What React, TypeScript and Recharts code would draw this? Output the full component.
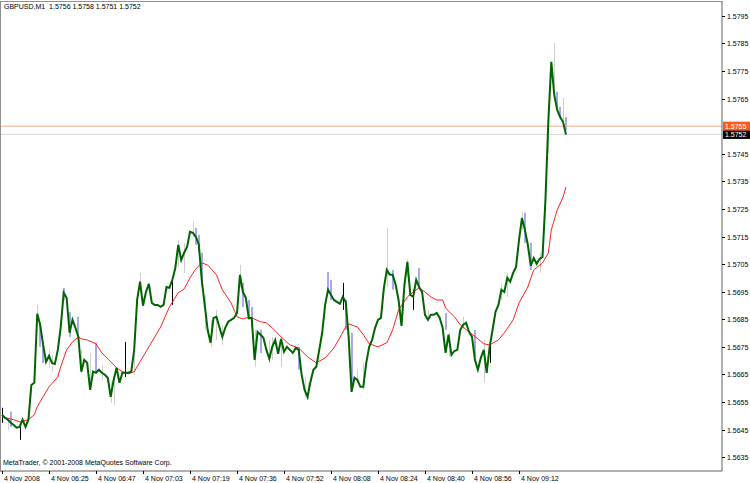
import { Bar, ComposedChart, Line, ReferenceLine, XAxis, YAxis } from 'recharts';

// close of each M1 bar, bar index = position in array
const closePrices = [
  1.56504, 1.56493, 1.56486, 1.56475, 1.56467, 1.56457, 1.5646, 1.56486, 1.5646, 1.56486,
  1.56612, 1.5662, 1.5687, 1.5683, 1.56757, 1.56696, 1.56717, 1.56692, 1.56688, 1.56739,
  1.56822, 1.56946, 1.56928, 1.56801, 1.56848, 1.56819, 1.56786, 1.5666, 1.56703, 1.56692,
  1.56594, 1.5666, 1.56656, 1.56667, 1.56656, 1.56649, 1.56638, 1.56569, 1.5663, 1.56674,
  1.5662, 1.56656, 1.56656, 1.56656, 1.5666, 1.56739, 1.5692, 1.56986, 1.56899, 1.56949,
  1.56978, 1.56909, 1.56902, 1.56902, 1.56895, 1.56902, 1.56967, 1.56964, 1.56993, 1.57036,
  1.5712, 1.57065, 1.57091, 1.57112, 1.57167, 1.57163, 1.57149, 1.5712, 1.56993, 1.56902,
  1.56812, 1.56765, 1.56855, 1.56859, 1.56822, 1.56786, 1.56819, 1.56841, 1.56848, 1.56855,
  1.56873, 1.57011, 1.56949, 1.56928, 1.56855, 1.56855, 1.56703, 1.56804, 1.56794, 1.56783,
  1.56739, 1.56707, 1.5675, 1.56775, 1.56725, 1.56779, 1.56732, 1.5675, 1.56739, 1.56728,
  1.56746, 1.56739, 1.56649, 1.56594, 1.56569, 1.56623, 1.56667, 1.56678, 1.56739, 1.56801,
  1.56902, 1.56957, 1.56938, 1.5692, 1.56913, 1.56906, 1.56931, 1.56913, 1.56786, 1.56587,
  1.56638, 1.5663, 1.56605, 1.56605, 1.56692, 1.5675, 1.56775, 1.56819, 1.56848, 1.56855,
  1.56964, 1.57029, 1.57011, 1.57011, 1.56975, 1.5692, 1.56826, 1.56975, 1.57058, 1.56938,
  1.56931, 1.56993, 1.56967, 1.56949, 1.56866, 1.56848, 1.56866, 1.56866, 1.56873, 1.56855,
  1.56819, 1.56728, 1.56794, 1.56721, 1.56735, 1.56739, 1.56812, 1.5683, 1.56837, 1.56804,
  1.56786, 1.56703, 1.56667, 1.5671, 1.56739, 1.56656, 1.5675, 1.56812, 1.56877, 1.56902,
  1.56957, 1.56949, 1.57, 1.56986, 1.57018, 1.5704, 1.57138, 1.57217, 1.57174, 1.5712,
  1.57044, 1.57072, 1.57051, 1.57069, 1.57076, 1.57283, 1.57572, 1.57783, 1.57663, 1.57609,
  1.57583, 1.57565, 1.5752,
];

// moving average, read at a subset of bars
const maBars = [
  0, 4, 6, 9, 11, 12, 14, 16, 19, 20, 22, 24, 26, 27, 29, 32, 34, 37, 39, 41, 43, 45, 47, 50,
  54, 57, 60, 62, 64, 66, 68, 70, 73, 75, 78, 80, 82, 83, 85, 88, 90, 92, 95, 98, 101, 104,
  107, 110, 113, 115, 117, 118, 121, 123, 125, 128, 131, 133, 135, 138, 140, 142, 144, 146,
  148, 150, 151, 154, 156, 159, 162, 164, 166, 169, 171, 174, 176, 179, 181, 184, 186, 187,
  189, 191, 192,
];
const maPrices = [
  1.56496, 1.56486, 1.56478, 1.56486, 1.56504, 1.56533, 1.56569, 1.56605, 1.56641, 1.56678,
  1.56739, 1.56768, 1.56786, 1.56779, 1.56775, 1.56761, 1.56728, 1.56696, 1.56674, 1.5666,
  1.56652, 1.5666, 1.56696, 1.5675, 1.56822, 1.56895, 1.56946, 1.5696, 1.57, 1.57033,
  1.57054, 1.57047, 1.57011, 1.56957, 1.56909, 1.56859, 1.56851, 1.56855, 1.56855, 1.56841,
  1.56837, 1.56819, 1.56786, 1.56757, 1.56746, 1.56714, 1.56692, 1.5671, 1.56746, 1.56783,
  1.56822, 1.56833, 1.56822, 1.56794, 1.56761, 1.5675, 1.56765, 1.56812, 1.56884, 1.56931,
  1.56949, 1.56964, 1.56949, 1.56931, 1.5692, 1.5692, 1.56891, 1.56859, 1.5683, 1.56804,
  1.56779, 1.56761, 1.56757, 1.56775, 1.56801, 1.56848, 1.56909, 1.56967, 1.57029, 1.57054,
  1.57091, 1.57174, 1.57246, 1.57293, 1.5733,
];

// visible bar shadows: g = grey wick, b = blue body, k = black wick
const wickBars = [
  0, 2, 3, 6, 12, 13, 14, 16, 17, 21, 23, 26, 27, 30, 32, 34, 37, 38, 42, 45, 47, 58, 60, 62,
  65, 66, 67, 68, 69, 71, 73, 75, 81, 82, 84, 85, 86, 88, 91, 92, 95, 101, 103, 104, 111, 112,
  116, 117, 119, 121, 123, 131, 133, 138, 140, 142, 145, 151, 152, 157, 161, 164, 166, 170,
  172, 177, 178, 180, 183, 186, 188, 189, 190, 191, 192,
];
const wickHighs = [
  1.56529, 1.56478, 1.56515, 1.5646, 1.56902, 1.56837, 1.56768, 1.56739, 1.56721, 1.56964,
  1.56877, 1.56859, 1.56739, 1.56728, 1.56765, 1.56685, 1.5662, 1.56649, 1.56768, 1.56721,
  1.57018, 1.56993, 1.57138, 1.57127, 1.57203, 1.57181, 1.57156, 1.57091, 1.56938, 1.56848,
  1.56884, 1.5683, 1.57047, 1.56982, 1.5692, 1.56895, 1.56812, 1.56812, 1.56775, 1.56786,
  1.56786, 1.5675, 1.56641, 1.5662, 1.57022, 1.56993, 1.56982, 1.5692, 1.56801, 1.56667,
  1.56692, 1.57181, 1.57029, 1.57065, 1.56957, 1.57036, 1.56884, 1.56873, 1.56801, 1.56859,
  1.56812, 1.56775, 1.56765, 1.56982, 1.57018, 1.57239, 1.57236, 1.57127, 1.57091, 1.57609,
  1.57851, 1.57674, 1.5762, 1.57652, 1.57583,
];
const wickLows = [
  1.56475, 1.56449, 1.5646, 1.56413, 1.56837, 1.5675, 1.56692, 1.56674, 1.5666, 1.5692,
  1.56786, 1.56783, 1.56656, 1.56594, 1.5666, 1.5663, 1.56547, 1.5654, 1.56641, 1.56649,
  1.56946, 1.56902, 1.5704, 1.57018, 1.57149, 1.5712, 1.57094, 1.56967, 1.56812, 1.5675,
  1.56775, 1.56757, 1.56967, 1.56895, 1.56848, 1.56822, 1.56678, 1.56728, 1.56692, 1.56703,
  1.56678, 1.56667, 1.56569, 1.56558, 1.56957, 1.5692, 1.56884, 1.56812, 1.56594, 1.5662,
  1.56594, 1.56967, 1.56957, 1.57004, 1.56884, 1.56967, 1.56841, 1.56812, 1.56714, 1.56812,
  1.56714, 1.5662, 1.56692, 1.5692, 1.56931, 1.57174, 1.57127, 1.57029, 1.57018, 1.57453,
  1.57692, 1.57609, 1.57583, 1.57547, 1.57536,
];
const wickKinds = [
  'k', 'g', 'b', 'k', 'g', 'b', 'b', 'g', 'g', 'b', 'b', 'b', 'g', 'g', 'b', 'g', 'g', 'g',
  'k', 'g', 'g', 'k', 'g', 'g', 'g', 'b', 'b', 'b', 'g', 'g', 'g', 'g', 'g', 'b', 'b', 'b',
  'g', 'b', 'g', 'g', 'g', 'b', 'g', 'g', 'b', 'b', 'k', 'b', 'b', 'g', 'g', 'g', 'b', 'g',
  'k', 'b', 'g', 'b', 'g', 'g', 'b', 'g', 'k', 'g', 'g', 'g', 'b', 'b', 'g', 'g', 'g', 'b',
  'b', 'g', 'b',
];

const timeTickBars = [0, 16, 32, 48, 64, 80, 96, 112, 128, 144, 160, 176];
const timeLabels = [
  '4 Nov 2008', '4 Nov 06:25', '4 Nov 06:47', '4 Nov 07:03', '4 Nov 07:19', '4 Nov 07:36',
  '4 Nov 07:52', '4 Nov 08:08', '4 Nov 08:24', '4 Nov 08:40', '4 Nov 08:56', '4 Nov 09:12',
];
const priceTicks = [
  1.5635, 1.5645, 1.5655, 1.5665, 1.5675, 1.5685, 1.5695, 1.5705, 1.5715, 1.5725, 1.5735,
  1.5745, 1.5765, 1.5775, 1.5785, 1.5795,
];
const askPrice = 1.5755;
const bidPrice = 1.5752;
const header = 'GBPUSD,M1  1.5756 1.5758 1.5751 1.5752';
const footer = 'MetaTrader, © 2001-2008 MetaQuotes Software Corp.';

const FONT = '"Liberation Sans", Arial, sans-serif';

type Row = { bar: number; close: number; ma?: number; wick?: [number, number]; kind?: string };

const rows: Row[] = closePrices.map((close, bar) => ({ bar, close }));
maBars.forEach((b, i) => {
  rows[b].ma = maPrices[i];
});
wickBars.forEach((b, i) => {
  rows[b].wick = [wickLows[i], wickHighs[i]];
  rows[b].kind = wickKinds[i];
});

function WickShape(props: any) {
  const { x, y, width, height, payload } = props;
  if (!payload || !payload.wick || height == null) return null;
  const top = Math.min(y, y + height);
  const h = Math.max(1, Math.abs(height));
  const cx = Math.round(x + width / 2);
  if (payload.kind === 'b') {
    return <rect x={cx - 1} y={top} width={2} height={h} fill="#a8a8f0" />;
  }
  return (
    <line
      x1={cx + 0.5}
      x2={cx + 0.5}
      y1={top}
      y2={top + h}
      stroke={payload.kind === 'k' ? '#000000' : '#cfcfcf'}
      strokeWidth={1}
    />
  );
}

function TimeTick(props: any) {
  const { x, y, payload } = props;
  const idx = timeTickBars.indexOf(payload.value);
  const px = Math.round(x) + 0.5;
  return (
    <g>
      <line x1={px} x2={px} y1={y} y2={y + 3} stroke="#000" />
      <text x={px + 1.5} y={y + 10} fontSize={7} fontFamily={FONT} fill="#000">
        {timeLabels[idx]}
      </text>
    </g>
  );
}

function PriceTick(props: any) {
  const { x, y, payload } = props;
  const py = Math.round(y) + 0.5;
  return (
    <g>
      <line x1={x} x2={x + 3} y1={py} y2={py} stroke="#000" />
      <text x={x + 5} y={py + 2.5} fontSize={7} fontFamily={FONT} fill="#000">
        {payload.value.toFixed(4)}
      </text>
    </g>
  );
}

function PriceTag(props: any) {
  const { viewBox, text, bg } = props;
  if (!viewBox) return null;
  const { x, y, width } = viewBox;
  const left = x + width + 1;
  return (
    <g>
      <rect x={left} y={y - 4.5} width={27} height={9} fill={bg} />
      <text x={left + 2} y={y + 2.5} fontSize={7} fontFamily={FONT} fill="#ffffff">
        {text}
      </text>
    </g>
  );
}

export default function App() {
  return (
    <div style={{ position: 'absolute', left: 0, top: 0, width: 750, height: 483, background: '#fff' }}>
      <ComposedChart
        width={750}
        height={483}
        data={rows}
        margin={{ top: 2, right: 0, bottom: 0, left: 0 }}
      >
        <XAxis
          dataKey="bar"
          type="number"
          domain={[-0.68, 245.1]}
          allowDataOverflow
          ticks={timeTickBars}
          tick={<TimeTick />}
          tickLine={false}
          tickSize={0}
          tickMargin={0}
          height={12}
          axisLine={{ stroke: '#606060' }}
          interval={0}
        />
        <YAxis
          orientation="right"
          type="number"
          domain={[1.563, 1.58]}
          allowDataOverflow
          ticks={priceTicks}
          tick={<PriceTick />}
          tickLine={false}
          tickSize={0}
          tickMargin={0}
          width={28}
          axisLine={{ stroke: '#606060' }}
          interval={0}
        />
        <Bar dataKey="wick" barSize={1} shape={<WickShape />} isAnimationActive={false} />
        <ReferenceLine
          y={bidPrice}
          stroke="#d8d8d8"
          label={<PriceTag text={bidPrice.toFixed(4)} bg="#000000" />}
        />
        <ReferenceLine
          y={askPrice}
          stroke="#f8a888"
          label={<PriceTag text={askPrice.toFixed(4)} bg="#ff5a1e" />}
        />
        <Line
          dataKey="ma"
          type="linear"
          stroke="#ff2020"
          strokeWidth={1}
          dot={false}
          connectNulls
          isAnimationActive={false}
        />
        <Line
          dataKey="close"
          type="linear"
          stroke="#006400"
          strokeWidth={2}
          dot={false}
          isAnimationActive={false}
        />
      </ComposedChart>
      <div
        style={{
          position: 'absolute',
          left: 0,
          top: 1,
          width: 722,
          height: 470,
          borderLeft: '1px solid #909090',
          borderTop: '1px solid #909090',
          pointerEvents: 'none',
        }}
      />
      <div
        style={{ position: 'absolute', left: 4, top: 3, fontSize: 7, fontFamily: FONT, whiteSpace: 'pre', color: '#000' }}
      >
        {header}
      </div>
      <div
        style={{ position: 'absolute', left: 3, top: 459, fontSize: 7, fontFamily: FONT, whiteSpace: 'pre', color: '#000' }}
      >
        {footer}
      </div>
    </div>
  );
}
